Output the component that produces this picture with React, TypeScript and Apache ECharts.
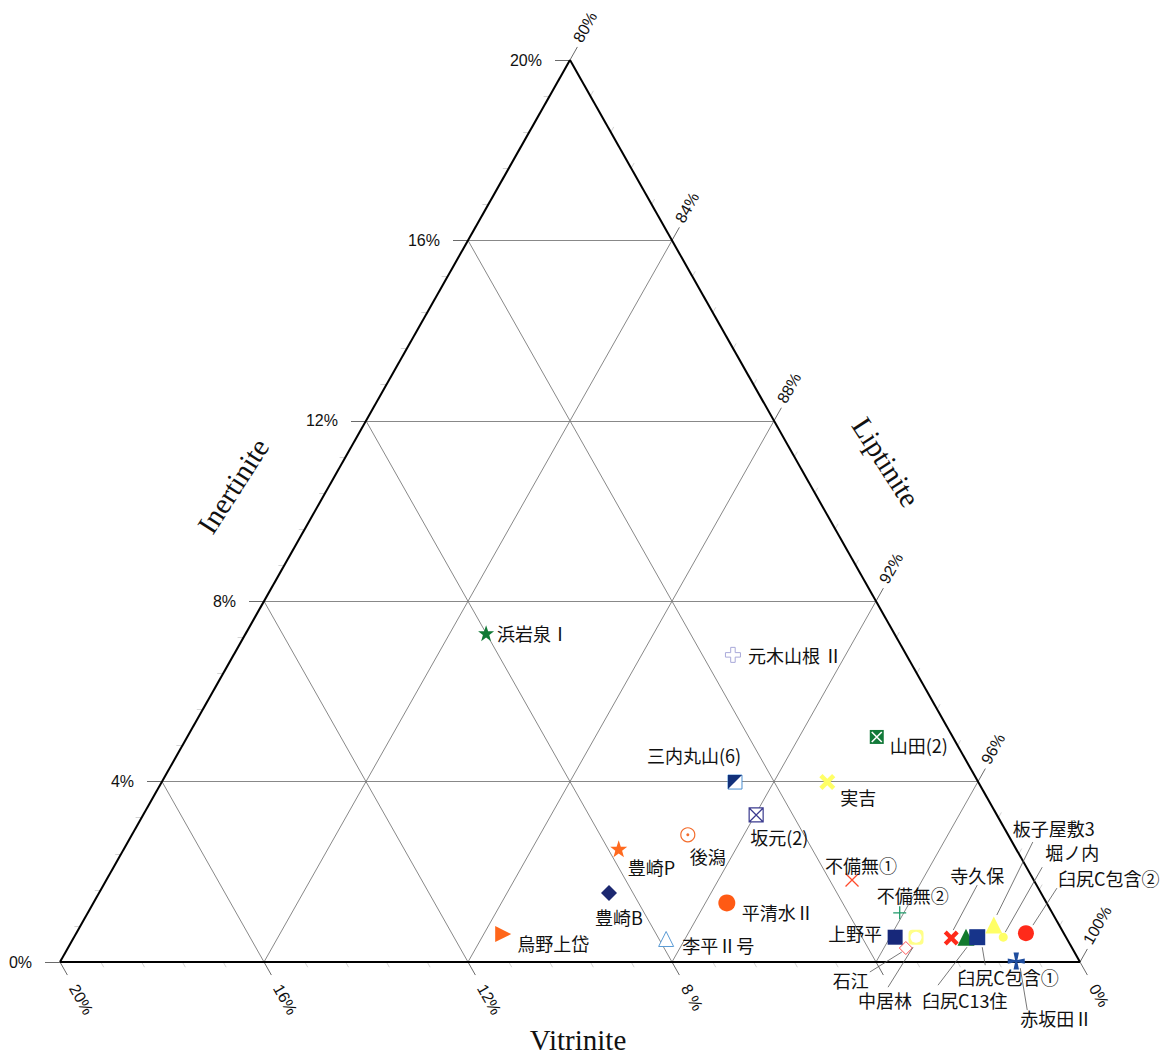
import React, { useEffect, useRef } from 'react';
import * as echarts from 'echarts';

// ---------------- data ----------------
const sampleNames = [
  '浜岩泉Ⅰ', '元木山根 Ⅱ', '山田(2)', '三内丸山(6)', '実吉', '坂元(2)', '後潟', '豊崎P',
  '豊崎B', '平清水Ⅱ', '烏野上岱', '李平Ⅱ号', '不備無①', '不備無②', '石江', '上野平',
  '中居林', '寺久保', '臼尻C13住', '臼尻C包含①', '板子屋敷3', '堀ノ内', '臼尻C包含②', '赤坂田Ⅱ',
];
// Inertinite % (0-20 scale, left axis)
const inertinite = [
  7.29, 6.81, 4.99, 3.99, 3.99, 3.26, 2.82, 2.51,
  1.53, 1.31, 0.62, 0.51, 1.82, 1.09, 0.31, 0.55,
  0.55, 0.53, 0.55, 0.55, 0.82, 0.55, 0.64, 0.02,
];
// bottom-axis % (20 at left vertex, 0 at right vertex)
const liptinite = [
  8.0, 3.4, 1.49, 4.77, 2.96, 4.72, 6.28, 7.79,
  8.47, 6.27, 11.0, 7.86, 3.56, 2.99, 3.26, 3.35,
  2.94, 2.26, 1.96, 1.74, 1.28, 1.23, 0.74, 1.24,
];

const inertiniteTicks = [0, 4, 8, 12, 16, 20];
const inertiniteTickLabels = ['0%', '4%', '8%', '12%', '16%', '20%'];
const bottomTicks = [20, 16, 12, 8, 0];
const bottomTickLabels = ['20%', '16%', '12%', '8 %', '0%'];
const vitriniteTicks = [80, 84, 88, 92, 96, 100];
const vitriniteTickLabels = ['80%', '84%', '88%', '92%', '96%', '100%'];
const gridSteps = [4, 8, 12, 16];
const minorStep = 0.8;

// ---------------- layout ----------------
const W = 1168, H = 1059;
const PX_U = 51, PX_H = 45.1, X0 = 60, Y0 = 962;
const SPAN = 20;
const tern = (I: number, L: number): [number, number] => [SPAN - L - I / 2, I];

const STAR = 'path://M5,0L6.18,3.45L9.76,3.45L6.9,5.59L7.94,9.05L5,7L2.06,9.05L3.1,5.59L0.24,3.45L3.82,3.45Z';
const XTHIN = 'path://M0,0L10,10M10,0L0,10';
const XBOLD = 'path://M0,2L2,0L5,3L8,0L10,2L7,5L10,8L8,10L5,7L2,10L0,8L3,5Z';
const PLUSOUT = 'path://M3.5,0H6.5V3.5H10V6.5H6.5V10H3.5V6.5H0V3.5H3.5Z';
const PLUSTHIN = 'path://M5,0V10M0,5H10';
const HALF = 'path://M0,0H10L0,10Z';
const BOXX = 'path://M0,0H10V10H0ZM0,0L10,10M10,0L0,10';
const CROSS = 'path://M3.4,0H6.6L5.7,4.3L10,3.4V6.6L5.7,5.7L6.6,10H3.4L4.3,5.7L0,6.6V3.4L4.3,4.3Z';

type Layer = { symbol: string; size: number; color: string; border?: string; bw?: number; rotate?: number };
type Mark = { layers: Layer[]; label: [number, number]; leader?: [number, number, number, number] };

const marks: Mark[] = [
  { layers: [{ symbol: STAR, size: 16, color: '#0f7a35' }], label: [11, 0] },
  { layers: [{ symbol: PLUSOUT, size: 15, color: '#ffffff', border: '#a9a9d9', bw: 1 }], label: [15, 0] },
  { layers: [{ symbol: 'rect', size: 14, color: '#137a3a' }, { symbol: XTHIN, size: 10, color: 'none', border: '#ffffff', bw: 1.6 }], label: [13, 8] },
  { layers: [{ symbol: 'rect', size: 14, color: '#ffffff', border: '#4a8fd0', bw: 1 }, { symbol: HALF, size: 14, color: '#12307a' }], label: [-88, -27] },
  { layers: [{ symbol: XBOLD, size: 16, color: '#ffff66' }], label: [13, 15] },
  { layers: [{ symbol: BOXX, size: 14, color: '#ffffff', border: '#3b3b8f', bw: 1.2 }], label: [-6, 22] },
  { layers: [{ symbol: 'circle', size: 14, color: '#ffffff', border: '#f36c2c', bw: 1.2 }, { symbol: 'circle', size: 3, color: '#f36c2c' }], label: [2, 21] },
  { layers: [{ symbol: STAR, size: 17, color: '#ff6a1f' }], label: [9, 18] },
  { layers: [{ symbol: 'diamond', size: 16, color: '#1c2870' }], label: [-14, 24] },
  { layers: [{ symbol: 'circle', size: 17, color: '#ff5a14' }], label: [15, 9] },
  { layers: [{ symbol: 'triangle', size: 16, color: '#ff661a', rotate: -90 }], label: [14, 9] },
  { layers: [{ symbol: 'triangle', size: 15, color: '#ffffff', border: '#5b9bd5', bw: 1 }], label: [16, 6] },
  { layers: [{ symbol: XTHIN, size: 13, color: 'none', border: '#ff4a2a', bw: 1.3 }], label: [-27, -15] },
  { layers: [{ symbol: PLUSTHIN, size: 13, color: 'none', border: '#1f9a6a', bw: 1.3 }], label: [-23, -18] },
  { layers: [{ symbol: 'diamond', size: 13, color: '#ffffff', border: '#ff5050', bw: 1 }], label: [-73, 32], leader: [-36, 24, -4, 4] },
  { layers: [{ symbol: 'rect', size: 15, color: '#17287a' }], label: [-67, -4] },
  { layers: [{ symbol: 'roundRect', size: 15, color: '#ffff88' }, { symbol: 'circle', size: 11, color: '#ffffff' }], label: [-58, 63], leader: [-28, 50, -3, 10] },
  { layers: [{ symbol: XBOLD, size: 15, color: '#ff2a1a' }], label: [-1, -63], leader: [26, -53, 2, -8] },
  { layers: [{ symbol: 'triangle', size: 17, color: '#137a2e' }], label: [-44, 63], leader: [-28, 48, 1, 10] },
  { layers: [{ symbol: 'rect', size: 16, color: '#17348a' }], label: [-20, 40], leader: [8, 28, 5, 10] },
  { layers: [{ symbol: 'triangle', size: 17, color: '#ffff66' }], label: [19, -97], leader: [39, -83, 3, -10] },
  { layers: [{ symbol: 'circle', size: 9, color: '#ffff66' }], label: [42, -85], leader: [39, -70, 2, -5] },
  { layers: [{ symbol: 'circle', size: 16, color: '#ff2a1a' }], label: [32, -55], leader: [31, -45, 7, -8] },
  { layers: [{ symbol: CROSS, size: 17, color: '#1f4d9e' }], label: [4, 57], leader: [11, 49, 4, 7] },
];

const LABEL_FONT = '18px "Noto Sans CJK JP", sans-serif';
const TICK_FONT = '16px "Liberation Sans", Arial, sans-serif';
const TITLE_FONT = '29px "Liberation Serif", "Times New Roman", serif';

function buildOption() {
  const diagLenPx = Math.hypot(0.5 * PX_U, PX_H);
  const diag = (px: number) => [(0.5 * px) / diagLenPx, px / diagLenPx];

  const edgeLines = [
    [tern(0, 20), tern(0, 0)],
    [tern(0, 0), tern(20, 0)],
    [tern(20, 0), tern(0, 20)],
  ];
  const gridLines: number[][][] = [];
  gridSteps.forEach((s) => {
    gridLines.push([tern(s, 20 - s), tern(s, 0)]);
    gridLines.push([tern(0, s), tern(20 - s, s)]);
    gridLines.push([tern(0, s), tern(s, 0)]);
  });

  const majorTicks: number[][][] = [];
  const minorTicks: number[][][] = [];
  const addLeft = (I: number, px: number, arr: number[][][]) => {
    const a = tern(I, 20 - I);
    arr.push([a, [a[0] - px / PX_U, a[1]]]);
  };
  const addBottom = (L: number, px: number, arr: number[][][]) => {
    const a = tern(0, L);
    const d = diag(px);
    arr.push([a, [a[0] + d[0], a[1] - d[1]]]);
  };
  const addRight = (I: number, px: number, arr: number[][][]) => {
    const a = tern(I, 0);
    const d = diag(px);
    arr.push([a, [a[0] + d[0], a[1] + d[1]]]);
  };
  inertiniteTicks.forEach((I) => addLeft(I, 15, majorTicks));
  bottomTicks.concat([4]).forEach((L) => addBottom(L, 15, majorTicks));
  vitriniteTicks.forEach((V) => addRight(100 - V, 15, majorTicks));
  for (let v = minorStep; v < 20 - 1e-6; v += minorStep) {
    if (Math.abs(v / 4 - Math.round(v / 4)) < 1e-6) continue;
    addLeft(v, 6, minorTicks);
    addBottom(v, 6, minorTicks);
    addRight(v, 6, minorTicks);
  }

  const tickItems: { pos: [number, number]; text: string; kind: string }[] = [
    ...inertiniteTicks.map((I, k) => ({ pos: tern(I, 20 - I), text: inertiniteTickLabels[k], kind: 'left' })),
    ...bottomTicks.map((L, k) => ({ pos: tern(0, L), text: bottomTickLabels[k], kind: 'bottom' })),
    ...vitriniteTicks.map((V, k) => ({ pos: tern(100 - V, 0), text: vitriniteTickLabels[k], kind: 'right' })),
  ];

  const dirLen = Math.hypot(0.5 * PX_U, PX_H);
  const dx = (0.5 * PX_U) / dirLen, dy = PX_H / dirLen;
  const rot = Math.atan2(PX_H, 0.5 * PX_U);

  const series: any[] = [
    {
      type: 'lines', coordinateSystem: 'cartesian2d', silent: true, z: 1,
      data: minorTicks.map((c) => ({ coords: c })),
      lineStyle: { color: '#d4d4d4', width: 1, opacity: 1 },
    },
    {
      type: 'lines', coordinateSystem: 'cartesian2d', silent: true, z: 1,
      data: gridLines.map((c) => ({ coords: c })),
      lineStyle: { color: '#7a7a7a', width: 0.9, opacity: 1 },
    },
    {
      type: 'lines', coordinateSystem: 'cartesian2d', silent: true, z: 1,
      data: majorTicks.map((c) => ({ coords: c })),
      lineStyle: { color: '#6a6a6a', width: 1, opacity: 1 },
    },
    {
      type: 'lines', coordinateSystem: 'cartesian2d', silent: true, z: 2,
      data: edgeLines.map((c) => ({ coords: c })),
      lineStyle: { color: '#000000', width: 2, opacity: 1 },
    },
    {
      type: 'custom', name: 'tickLabels', silent: true, z: 3,
      data: tickItems.map((t) => t.pos),
      renderItem: (params: any, api: any) => {
        const it = tickItems[params.dataIndex];
        const p = api.coord([api.value(0), api.value(1)]);
        if (it.kind === 'left') {
          return {
            type: 'text', x: p[0] - 28, y: p[1],
            style: { text: it.text, font: TICK_FONT, fill: '#111', align: 'right', verticalAlign: 'middle' },
          };
        }
        if (it.kind === 'bottom') {
          const d = 27;
          return {
            type: 'text', x: p[0] + dx * d, y: p[1] + dy * d, rotation: -rot,
            style: { text: it.text, font: TICK_FONT, fill: '#111', align: 'left', verticalAlign: 'middle' },
          };
        }
        const d = 20;
        const up = 3;
        return {
          type: 'text',
          x: p[0] + dx * d - Math.sin(rot) * up,
          y: p[1] - dy * d - Math.cos(rot) * up,
          rotation: rot,
          style: { text: it.text, font: TICK_FONT, fill: '#111', align: 'left', verticalAlign: 'middle' },
        };
      },
    },
  ];

  sampleNames.forEach((name, i) => {
    const pos = tern(inertinite[i], liptinite[i]);
    marks[i].layers.forEach((ly, k) => {
      series.push({
        type: 'scatter', name: k === 0 ? name : name + '#' + k, silent: true, z: 5 + k,
        data: [pos],
        symbol: ly.symbol, symbolSize: ly.size, symbolRotate: ly.rotate || 0,
        itemStyle: {
          color: ly.color, borderColor: ly.border || 'transparent', borderWidth: ly.bw || 0, opacity: 1,
        },
      });
    });
  });

  series.push({
    type: 'custom', name: 'sampleLabels', silent: true, z: 10,
    data: sampleNames.map((_, i) => tern(inertinite[i], liptinite[i])),
    renderItem: (params: any, api: any) => {
      const i = params.dataIndex;
      const m = marks[i];
      const p = api.coord([api.value(0), api.value(1)]);
      const children: any[] = [
        {
          type: 'text', x: p[0] + m.label[0], y: p[1] + m.label[1],
          style: { text: sampleNames[i], font: LABEL_FONT, fill: '#111', align: 'left', verticalAlign: 'middle' },
        },
      ];
      if (m.leader) {
        children.push({
          type: 'line',
          shape: { x1: p[0] + m.leader[0], y1: p[1] + m.leader[1], x2: p[0] + m.leader[2], y2: p[1] + m.leader[3] },
          style: { stroke: '#555', lineWidth: 0.8 },
        });
      }
      return { type: 'group', children };
    },
  });

  return {
    animation: false,
    backgroundColor: '#ffffff',
    grid: { left: 0, right: 0, top: 0, bottom: 0, containLabel: false },
    xAxis: { type: 'value', min: -X0 / PX_U, max: (W - X0) / PX_U, show: false, splitLine: { show: false } },
    yAxis: { type: 'value', min: -(H - Y0) / PX_H, max: Y0 / PX_H, show: false, splitLine: { show: false } },
    graphic: [
      {
        type: 'text', x: 233, y: 486, rotation: 1.0, silent: true,
        style: { text: 'Inertinite', font: TITLE_FONT, fill: '#111', align: 'center', verticalAlign: 'middle' },
      },
      {
        type: 'text', x: 886, y: 462, rotation: -1.0, silent: true,
        style: { text: 'Liptinite', font: TITLE_FONT, fill: '#111', align: 'center', verticalAlign: 'middle' },
      },
      {
        type: 'text', x: 578, y: 1040, silent: true,
        style: { text: 'Vitrinite', font: TITLE_FONT, fill: '#111', align: 'center', verticalAlign: 'middle' },
      },
    ],
    series,
  };
}

export default function App() {
  const ref = useRef<HTMLDivElement>(null);
  useEffect(() => {
    if (!ref.current) return;
    const chart = echarts.init(ref.current, undefined, { renderer: 'svg' });
    chart.setOption(buildOption() as any);
    return () => chart.dispose();
  }, []);
  return (
    <div
      ref={ref}
      style={{ position: 'absolute', left: 0, top: 0, width: W, height: H, background: '#fff' }}
    />
  );
}
